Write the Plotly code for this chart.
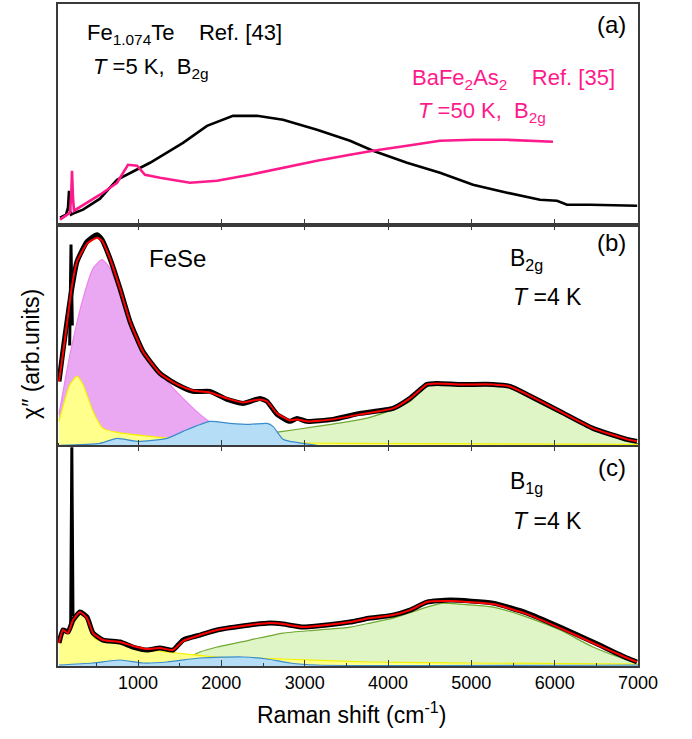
import plotly.graph_objects as go

# ---------------- Panel (a) ----------------
a_fete_x = [64, 136, 160, 172, 184, 196, 244, 340, 544, 748, 1144, 1540, 1828, 2140, 2428, 2740,
            3148, 3544, 3820, 4228, 4624, 5020, 5428, 5824, 6028, 6148, 6424, 6990]
a_fete_y = [7, 10, 17, 34, 14, 10, 12, 15, 26, 45, 62, 82, 99, 109, 109, 105,
            95, 84, 74, 62, 52, 40, 32, 25, 24, 20, 20, 19]
a_bafe_x = [64, 184, 200, 208, 220, 232, 544, 748, 880, 988, 1084, 1264, 1624, 1948, 2344, 2740,
            3148, 3544, 3820, 4228, 4624, 5020, 5428, 5980]
a_bafe_y = [5, 12, 32, 54, 27, 14, 30, 42, 60, 59, 50, 47, 42, 44, 50, 57,
            64, 70, 74, 79, 84, 85, 85, 83]

# ---------------- Panel (b) FeSe B2g ----------------
b_spike_x = [180, 196, 212]
b_spike_y = [100, 201, 120]
b_data_x = [52, 100, 148, 208, 268, 388, 508, 568, 664, 784, 904, 1060, 1264, 1468, 1660,
            1864, 2068, 2260, 2464, 2548, 2668, 2824, 2908, 3028, 3340, 3664, 4060, 4264, 4468,
            4588, 4864, 5260, 5464, 5668, 6064, 6460, 6868, 6988]
b_data_y = [64, 95, 124, 158, 184, 204, 211, 206, 187, 157, 124, 94, 72, 61, 54,
            54, 46, 42, 47, 44, 31, 24, 27, 24, 26, 32, 37, 47, 61,
            62, 61, 61, 59, 51, 34, 17, 6, 4]
b_fit_x = [52, 100, 148, 208, 268, 388, 508, 568, 664, 784, 904, 1060, 1264, 1468, 1660,
           1864, 2068, 2260, 2464, 2548, 2668, 2824, 2908, 3028, 3340, 3664, 4060, 4264, 4468,
           4588, 4864, 5260, 5464, 5668, 6064, 6460, 6868, 6988]
b_fit_y = [64, 92, 122, 160, 184, 202, 208, 205, 187, 157, 124, 94, 72, 61, 55,
           53, 47, 43, 46, 44, 32, 25, 26, 24, 26, 31, 37, 47, 61,
           62, 61, 61, 59, 51, 34, 17, 6, 4]
b_mag_x = [52, 184, 340, 460, 568, 664, 784, 940, 1144, 1348, 1540, 1744, 1948, 2344, 2740, 3148, 3784, 5000, 7000]
b_mag_y = [31, 91, 147, 177, 186, 177, 151, 114, 84, 64, 47, 31, 19, 11, 6, 4, 2, 1, 0.5]
b_yel_x = [52, 184, 268, 340, 460, 580, 748, 1144, 1540, 2344, 3544, 7000]
b_yel_y = [24, 61, 69, 61, 34, 17, 13, 9, 6, 3, 2, 1]
b_blu_x = [64, 544, 748, 988, 1348, 1540, 1864, 2104, 2344, 2548, 2620, 2740, 2824, 2980, 3148]
b_blu_y = [0, 2, 7, 4, 7, 14, 24, 22, 21, 22, 19, 6, 4, 2, 0]
b_grn_x = [1144, 1948, 2740, 3148, 3544, 3784, 4060, 4264, 4468, 4588, 4864, 5260, 5464, 5668, 6064, 6460, 6868, 6988]
b_grn_y = [0, 6, 14, 19, 24, 28, 36, 44, 59, 62, 60, 60, 58, 49, 32, 16, 4, 2]

# ---------------- Panel (c) FeSe B1g ----------------
c_spike_x = [192, 206, 220]
c_spike_y = [40, 219, 50]
c_data_x = [52, 100, 160, 220, 304, 388, 460, 580, 784, 940, 1108, 1264, 1420, 1540, 1744,
            1948, 2344, 2584, 2740, 2980, 3148, 3544, 3784, 4060, 4264, 4468, 4744, 5260, 5668,
            6064, 6460, 6868, 6988]
c_data_y = [23, 36, 34, 46, 54, 49, 33, 26, 24, 19, 16, 18, 16, 26, 31,
            36, 41, 43, 42, 39, 40, 44, 48, 51, 56, 64, 66, 63, 53,
            39, 24, 8, 4]
c_fit_x = [52, 100, 160, 220, 304, 388, 460, 580, 784, 940, 1108, 1264, 1420, 1540, 1744,
           1948, 2344, 2584, 2740, 2980, 3148, 3544, 3784, 4060, 4264, 4468, 4744, 5260, 5668,
           6064, 6460, 6868, 6988]
c_fit_y = [23, 36, 33, 46, 54, 48, 33, 26, 24, 20, 17, 18, 16, 25, 31,
           36, 41, 43, 42, 39, 40, 44, 48, 51, 56, 64, 65, 62, 52,
           38, 23, 8, 4]
c_yel_x = [52, 100, 160, 220, 304, 388, 460, 580, 784, 1144, 1468, 1948, 2740, 3784, 5000, 7000]
c_yel_y = [23, 36, 34, 44, 54, 47, 29, 24, 23, 16, 13, 9, 7, 4, 3, 2]
c_blu_x = [52, 460, 784, 1060, 1348, 1744, 2260, 2548, 2824, 3148, 7000]
c_blu_y = [1, 3, 6, 3, 4, 8, 9, 7, 3, 1, 1]
c_grn_x = [1300, 1540, 1744, 1948, 2344, 2740, 3148, 3544, 3784, 4060, 4468, 4660, 4864, 5260, 5668,
           6064, 6460, 6868, 6988]
c_grn_y = [0, 6, 14, 19, 26, 33, 36, 39, 43, 48, 59, 63, 62, 59, 49,
           36, 19, 6, 3]

x_ticks = [1000, 2000, 3000, 4000, 5000, 6000, 7000]
x_minor = [500, 1500, 2500, 3500, 4500, 5500, 6500]

PINK = "#ff1a8c"
FONT = "Liberation Sans, Arial, sans-serif"
FRAME = "#3a3a3a"

fig = go.Figure()

def comp(x, y, line, fill, xa, ya, w=1.2):
    fig.add_trace(go.Scatter(x=x, y=y, mode="lines", line=dict(color=line, width=w, shape="spline", smoothing=0.6),
                             fill="tozeroy", fillcolor=fill, xaxis=xa, yaxis=ya, showlegend=False, hoverinfo="skip"))

def line(x, y, color, width, xa, ya, spline=False):
    ln = dict(color=color, width=width)
    if spline:
        ln.update(shape="spline", smoothing=0.5)
    fig.add_trace(go.Scatter(x=x, y=y, mode="lines", line=ln, xaxis=xa, yaxis=ya, showlegend=False))

# panel (a)
line(a_fete_x, a_fete_y, "black", 2.6, "x3", "y3")
line(a_bafe_x, a_bafe_y, PINK, 2.6, "x3", "y3")

MAG_L, MAG_F = "#ee82ee", "#eaa8f3"
GRN_L, GRN_F = "#70a832", "#e0f5c6"
YEL_L, YEL_F = "#f2f200", "#ffff8c"
BLU_L, BLU_F = "#3a8ccc", "#b5def6"

# panel (b)
comp(b_mag_x, b_mag_y, MAG_L, MAG_F, "x2", "y2")
comp(b_grn_x, b_grn_y, GRN_L, GRN_F, "x2", "y2")
comp(b_yel_x, b_yel_y, YEL_L, YEL_F, "x2", "y2")
comp(b_blu_x, b_blu_y, BLU_L, BLU_F, "x2", "y2")
line(b_spike_x, b_spike_y, "black", 3, "x2", "y2")
line(b_data_x, b_data_y, "black", 5, "x2", "y2", spline=True)
line(b_fit_x, b_fit_y, "#ff0000", 2, "x2", "y2", spline=True)

# panel (c)
comp(c_grn_x, c_grn_y, GRN_L, GRN_F, "x", "y")
comp(c_yel_x, c_yel_y, YEL_L, YEL_F, "x", "y")
comp(c_blu_x, c_blu_y, BLU_L, BLU_F, "x", "y")
line(c_spike_x, c_spike_y, "black", 3, "x", "y")
line(c_data_x, c_data_y, "black", 5, "x", "y", spline=True)
line(c_fit_x, c_fit_y, "#ff0000", 2, "x", "y", spline=True)
# invisible trace for minor-tick overlay axis
fig.add_trace(go.Scatter(x=[x_minor[0]], y=[0], mode="markers", marker=dict(opacity=0),
                         xaxis="x4", yaxis="y", showlegend=False, hoverinfo="skip"))

XR = [40, 7000]
base_x = dict(range=XR, showgrid=False, zeroline=False, showline=True, linecolor=FRAME, linewidth=1.6,
              ticks="inside", ticklen=6, tickwidth=1.4, tickcolor=FRAME, tickvals=x_ticks)
base_y = dict(range=[0, 221], showgrid=False, zeroline=False, showline=True, linecolor=FRAME, linewidth=1.6,
              mirror=True, ticks="", showticklabels=False)

fig.update_layout(
    width=692, height=739,
    margin=dict(l=58, r=54, t=2, b=73),
    paper_bgcolor="white", plot_bgcolor="white",
    font=dict(family=FONT, color="black"),
    xaxis=dict(base_x, anchor="y", mirror="ticks", showticklabels=True,
               tickfont=dict(size=18, family=FONT, color="black")),
    xaxis2=dict(base_x, anchor="y2", mirror="ticks", showticklabels=False),
    xaxis3=dict(base_x, anchor="y3", mirror=True, showticklabels=False),
    xaxis4=dict(range=XR, overlaying="x", anchor="y", side="bottom", showgrid=False, zeroline=False,
                showline=False, ticks="inside", ticklen=3.5, tickwidth=1.2, tickcolor=FRAME,
                tickvals=x_minor, showticklabels=False),
    yaxis=dict(base_y, domain=[0, 1/3]),
    yaxis2=dict(base_y, domain=[1/3, 2/3]),
    yaxis3=dict(base_y, domain=[2/3, 1]),
)

NB = "\u00a0"
ann = []
def add(text, x, y, xr, yr, size, color="black", xanchor="left"):
    ann.append(dict(text=text, x=x, y=y, xref=xr, yref=yr, showarrow=False, xanchor=xanchor, yanchor="middle",
                    font=dict(size=size, color=color, family=FONT)))

add("Fe<sub>1.074</sub>Te" + NB * 4 + "Ref. [43]", 364, 191, "x3", "y3", 22)
add("<i>T</i> =5 K," + NB * 2 + "B<sub>2g</sub>", 440, 157, "x3", "y3", 22)
add("BaFe<sub>2</sub>As<sub>2</sub>" + NB * 4 + "Ref. [35]", 4260, 146, "x3", "y3", 22, PINK)
add("<i>T</i> =50 K," + NB * 2 + "B<sub>2g</sub>", 4340, 113, "x3", "y3", 22, PINK)
add("(a)", 6880, 200, "x3", "y3", 24, xanchor="right")

add("FeSe", 1108, 187, "x2", "y2", 24)
add("B<sub>2g</sub>", 5440, 186, "x2", "y2", 23)
add("<i>T</i> =4 K", 5480, 149, "x2", "y2", 23)
add("(b)", 6880, 203, "x2", "y2", 24, xanchor="right")

add("B<sub>1g</sub>", 5440, 184, "x", "y", 23)
add("<i>T</i> =4 K", 5480, 145, "x", "y", 23)
add("(c)", 6880, 199, "x", "y", 24, xanchor="right")

ann.append(dict(text="Raman shift (cm<sup>-1</sup>)", x=(351 - 58) / 580, y=(666 - 713) / 664,
                xref="paper", yref="paper", showarrow=False, xanchor="center", yanchor="middle",
                font=dict(size=23, family=FONT, color="black")))
ann.append(dict(text="χ″ (arb.units)", x=(31 - 58) / 580, y=(666 - 353) / 664, textangle=-90,
                xref="paper", yref="paper", showarrow=False, xanchor="center", yanchor="middle",
                font=dict(size=23, family=FONT, color="black")))
fig.update_layout(annotations=ann)

fig.write_html("out.html")
